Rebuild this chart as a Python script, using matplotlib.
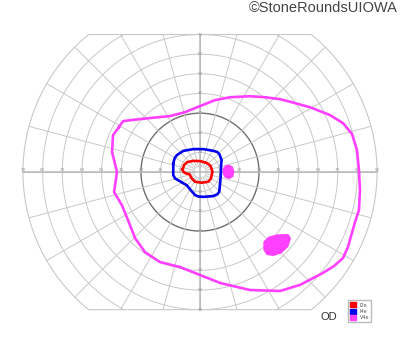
import numpy as np
import matplotlib.pyplot as plt
from matplotlib.patches import Polygon, Patch

# visual field chart, degrees from fixation
rings = [10, 20, 30, 40, 50, 60, 70, 80, 90]
h_labels = [10, 20, 30, 40, 50, 60, 70, 80, 90]
v_labels = [10, 20, 30, 40, 50, 60, 70]
meridians = np.arange(0, 360, 15)
y_cut = 70

# isopters (x, y in degrees)
i2e_x = [-8.8, -8.1, -6.5, -3.4, 0.0, 3.4, 5.4, 6.3, 5.6, 4.2, 0.9, -2.5, -4.2, -5.4, -7.1, -8.5]
i2e_y = [1.4, 3.6, 5.1, 5.7, 5.6, 4.7, 3.1, 0.2, -3.2, -4.9, -5.4, -4.9, -3.2, -1.0, -0.7, 0.2]

i4e_x = [-13.6, -12.9, -11.8, -8.5, -3.4, 1.7, 6.8, 8.8, 9.8, 11.0, 10.7, 10.7, 10.5, 10.2, 9.8,
         8.8, 6.8, 1.7, -0.9, -2.5, -4.7, -6.8, -8.5, -9.8, -12.7, -13.6, -13.6]
i4e_y = [4.4, 7.0, 8.6, 10.8, 11.7, 11.7, 10.8, 10.2, 9.2, 6.1, 3.6, 1.0, -2.4, -5.7, -10.0,
         -11.3, -12.2, -12.6, -12.4, -11.7, -9.2, -6.6, -5.7, -4.9, -3.2, -1.5, 0.2]

v4e_x = [-41.2, -39.1, -35.6, -25.4, -15.3, -7.6, 0.0, 7.6, 15.3, 25.4, 33.0, 40.7, 48.3, 55.9,
         66.1, 72.7, 77.3, 79.8, 80.8, 81.3, 80.8, 78.8, 75.2, 72.7, 68.1, 62.5, 50.8, 40.7,
         25.4, 10.2, -10.2, -20.3, -28.0, -33.0, -36.6, -39.7, -43.7, -42.2, -44.7, -44.2]
v4e_y = [22.9, 25.9, 26.4, 27.5, 28.5, 30.5, 33.6, 36.6, 38.1, 38.6, 38.1, 37.1, 35.1, 33.0,
         29.0, 24.9, 19.3, 11.2, 1.0, -9.2, -19.3, -25.4, -38.1, -43.7, -47.8, -51.3, -57.4,
         -60.5, -60.0, -56.4, -48.3, -45.8, -40.7, -33.6, -24.4, -16.8, -10.2, 0.0, 10.2, 18.8]

# spots inside V4e
spot1_x = [11.6, 12.8, 14.8, 16.8, 17.5, 17.0, 14.8, 12.6, 11.6]
spot1_y = [1.8, 3.4, 3.8, 2.7, 0.2, -2.4, -3.6, -2.8, -1.0]
spot2_x = [32.2, 34.7, 39.0, 44.9, 46.3, 44.9, 41.5, 37.3, 33.9, 32.2]
spot2_y = [-35.4, -32.9, -31.7, -31.5, -33.7, -38.0, -41.3, -42.7, -42.2, -39.7]

RED = '#ff0000'
BLUE = '#0000ee'
MAG = '#ff40ff'
GRID = '#c8c8c8'

fig = plt.figure(figsize=(4, 3.52), dpi=100)
ax = fig.add_axes([19 / 400, 38.4 / 352, 362 / 400, 283 / 352])
ax.set_xlim(-92, 92)
ax.set_ylim(-72, 72)
ax.axis('off')

# clip region: outer circle cut flat at top and bottom
t = np.linspace(0, 2 * np.pi, 721)
bx = 90 * np.cos(t)
by = np.clip(90 * np.sin(t), -y_cut, y_cut)
clip = Polygon(np.column_stack([bx, by]), closed=True, transform=ax.transData,
               facecolor='none', edgecolor='none')
ax.add_patch(clip)

for r in rings[:-1]:
    col = '#707070' if r == 30 else GRID
    lw = 1.0 if r == 30 else 0.7
    ln, = ax.plot(r * np.cos(t), r * np.sin(t), color=col, lw=lw, zorder=1)
    ln.set_clip_path(clip)
ax.plot(bx, by, color=GRID, lw=0.8, zorder=1)

for m in meridians:
    a = np.radians(m)
    ln, = ax.plot([3 * np.cos(a), 90 * np.cos(a)], [3 * np.sin(a), 90 * np.sin(a)],
                  color=GRID, lw=0.7, zorder=1)
    ln.set_clip_path(clip)
ax.plot([-90, 90], [0, 0], color='#b8b8b8', lw=1.1, zorder=1)
ax.plot([0, 0], [-y_cut, y_cut], color='#b8b8b8', lw=1.1, zorder=1)

for v in h_labels:
    for s in (-1, 1):
        ax.text(s * v, 1.0, str(v), fontsize=3, color='#999999', ha='center', va='center')
for v in v_labels:
    for s in (-1, 1):
        ax.text(0.3, s * v, str(v), fontsize=3, color='#999999', ha='center', va='center')

ax.fill(spot1_x, spot1_y, color=MAG, lw=0, zorder=3)
ax.fill(spot2_x, spot2_y, color=MAG, lw=0, zorder=3)
ax.plot(v4e_x + v4e_x[:1], v4e_y + v4e_y[:1], color=MAG, lw=1.9, zorder=4,
        solid_joinstyle='round')
ax.plot(i4e_x + i4e_x[:1], i4e_y + i4e_y[:1], color=BLUE, lw=1.9, zorder=4,
        solid_joinstyle='round')
ax.plot(i2e_x + i2e_x[:1], i2e_y + i2e_y[:1], color=RED, lw=1.9, zorder=4,
        solid_joinstyle='round')

handles = [Patch(color=RED, label='I2e'), Patch(color=BLUE, label='I4e'),
           Patch(color=MAG, label='V4e')]
fig.legend(handles=handles, loc='upper left', bbox_to_anchor=(345.5 / 400, 1 - 298 / 352),
           fontsize=3.5, frameon=True, fancybox=False, edgecolor='#aaaaaa',
           handlelength=1.2, handleheight=1.2, handletextpad=0.8, labelspacing=0.25,
           borderpad=0.4, labelcolor='#555555')

fig.text(329 / 400, 1 - 317 / 352, 'OD', fontsize=8, color='#333333', ha='center',
         va='center', family='Liberation Sans')
fig.text(398 / 400, 1 - 7.5 / 352, '\u00a9StoneRoundsUIOWA', fontsize=10.5, color='#444444',
         ha='right', va='center', family='Liberation Sans')

fig.savefig('out.png', dpi=100)
